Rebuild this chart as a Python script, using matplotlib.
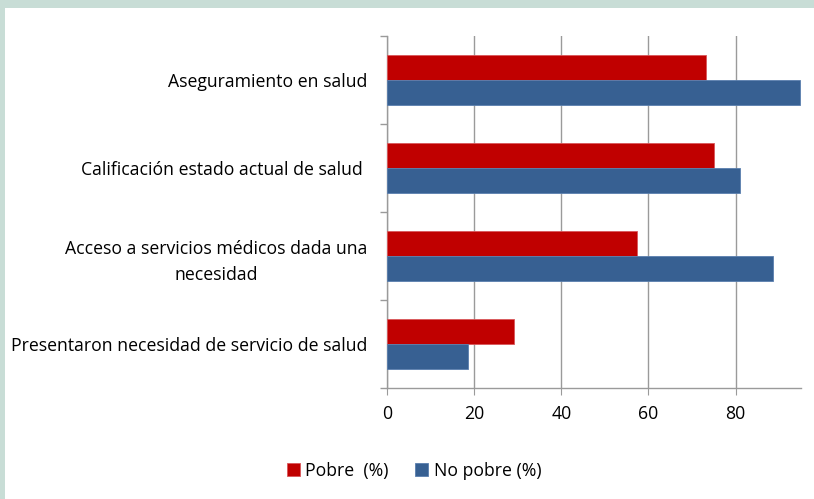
import matplotlib.pyplot as plt
import numpy as np
from matplotlib.patches import Rectangle

# Data
categories = [
    "Aseguramiento en salud",
    "Calificación estado actual de salud ",
    "Acceso a servicios médicos dada una\nnecesidad",
    "Presentaron necesidad de servicio de salud",
]
pobre = [73.1, 75.0, 57.3, 29.1]
no_pobre = [94.8, 81.1, 88.5, 18.6]
series_names = ["Pobre  (%)", "No pobre (%)"]
xticks = [0, 20, 40, 60, 80]

red = "#C00000"
blue = "#376092"
grid_col = "#9a9a9a"
fs = 12.7

plt.rcParams['font.family'] = ['Open Sans', 'DejaVu Sans']

fig = plt.figure(figsize=(8.14, 4.99), dpi=100)
fig.patch.set_facecolor("white")

# light frame on top and left
fig.patches.append(Rectangle((0, 1 - 8 / 499), 1, 8 / 499, transform=fig.transFigure,
                             facecolor="#C8DDD6", edgecolor="none", zorder=0))
fig.patches.append(Rectangle((0, 0), 5 / 814, 1, transform=fig.transFigure,
                             facecolor="#C8DDD6", edgecolor="none", zorder=0))

ax = fig.add_axes([387 / 814, 1 - 388 / 499, (801 - 387) / 814, (388 - 36) / 499])

n = len(categories)
y = np.arange(n)
h = 0.284
ax.barh(y - h / 2, pobre, height=h, color=red, edgecolor="#d9575a", linewidth=0.6,
        label=series_names[0], zorder=3)
ax.barh(y + h / 2, no_pobre, height=h, color=blue, edgecolor="#5a7fae", linewidth=0.6,
        label=series_names[1], zorder=3)

ax.set_ylim(n - 0.5, -0.5)
ax.set_xlim(0, 95)

ax.set_xticks(xticks)
ax.set_xticklabels([str(t) for t in xticks], fontsize=fs)
ax.set_yticks(y)
ax.set_yticklabels(categories, fontsize=fs, multialignment="center", linespacing=1.55)
ax.tick_params(axis="y", length=0, pad=14)
ax.tick_params(axis="x", length=5, color=grid_col, pad=7)

# category boundary ticks on the left axis
ax.set_yticks(np.arange(-0.5, n, 1), minor=True)
ax.tick_params(axis="y", which="minor", length=5, color=grid_col, width=1)

ax.grid(axis="x", color=grid_col, linewidth=1, zorder=0)
for side in ["top", "right"]:
    ax.spines[side].set_visible(False)
for side in ["left", "bottom"]:
    ax.spines[side].set_color(grid_col)
    ax.spines[side].set_linewidth(1)

fig.legend(loc="center", bbox_to_anchor=(414 / 814, 1 - 471 / 499), ncol=2, frameon=False,
           fontsize=fs, handlelength=0.75, handleheight=0.75, handletextpad=0.3,
           columnspacing=1.5)

fig.savefig("out.png", dpi=100)
